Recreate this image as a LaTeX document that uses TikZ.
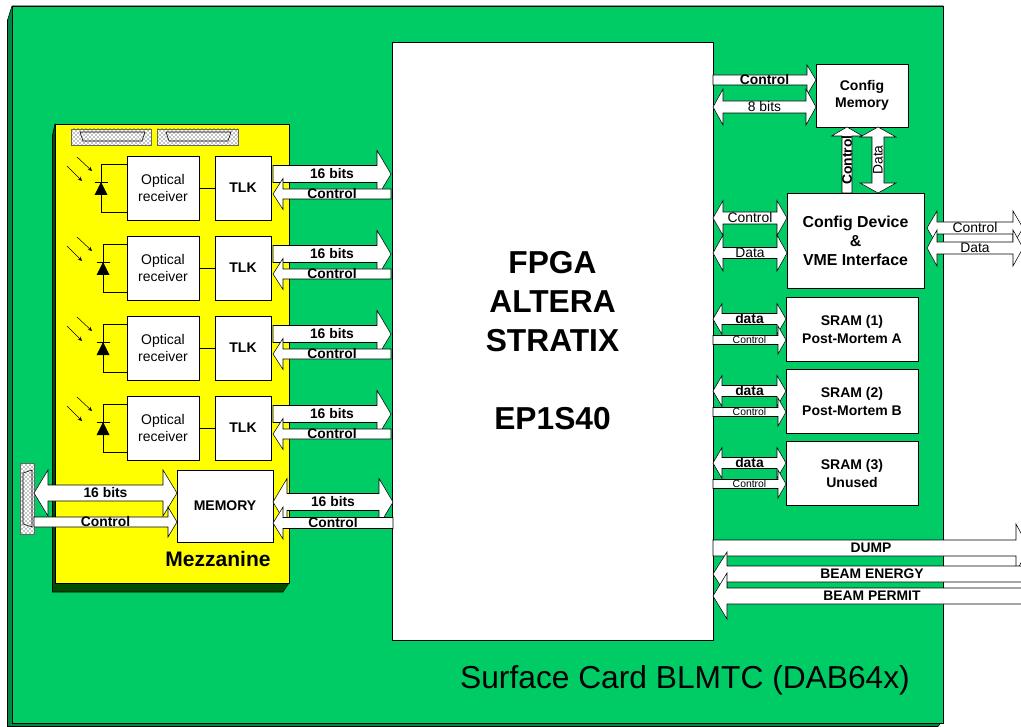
\documentclass[tikz,border=0pt]{standalone}
\usepackage{fontspec}
\setmainfont{Liberation Sans}
\usetikzlibrary{calc,positioning,patterns}
\definecolor{cardcolor}{RGB}{0, 204, 102}
\definecolor{cardsidecolor}{RGB}{0, 135, 65}
\definecolor{mezzcolor}{RGB}{255, 255, 0}
\definecolor{darkcolor}{RGB}{0, 76, 0}
\def\px{0.75pt}
\newcommand{\fsz}[2]{\fontsize{#1}{#2}\selectfont}
\tikzset{
    box/.style={draw, fill=white, align=center, inner sep=0pt, outer sep=0pt, font=\fsz{10.5}{12.75}},
    boldbox/.style={box, font=\fsz{10.5}{13.5}\bfseries},
    conn/.style={draw=black!60, preaction={fill=white}, pattern=crosshatch dots, inner sep=0pt, outer sep=0pt},
    buslabel/.style={inner sep=0pt, font=\fsz{10.4}{12}\bfseries},
    busplain/.style={inner sep=0pt, font=\fsz{10.4}{12}},
    bussmall/.style={inner sep=0pt, font=\fsz{7.8}{9}},
    busone/.style n args={3}{draw, fill=white, to path={
        ($(\tikztotarget)!#3*\px!(\tikztostart)$) coordinate (hb)
        ($(\tikztostart)!#1*\px!90:(\tikztotarget)$)
        -- ($(hb)!#1*\px!-90:(\tikztostart)$) -- ($(hb)!#2*\px!-90:(\tikztostart)$)
        -- (\tikztotarget)
        -- ($(hb)!#2*\px!90:(\tikztostart)$) -- ($(hb)!#1*\px!90:(\tikztostart)$)
        -- ($(\tikztostart)!#1*\px!-90:(\tikztotarget)$) -- cycle
        ($(\tikztostart)!.5!(\tikztotarget)$) coordinate (hm) -- (hm) \tikztonodes}},
    bustwo/.style n args={3}{draw, fill=white, to path={
        ($(\tikztotarget)!#3*\px!(\tikztostart)$) coordinate (hb)
        ($(\tikztostart)!#3*\px!(\tikztotarget)$) coordinate (ha)
        (\tikztostart)
        -- ($(ha)!#2*\px!90:(\tikztotarget)$) -- ($(ha)!#1*\px!90:(\tikztotarget)$)
        -- ($(hb)!#1*\px!-90:(\tikztostart)$) -- ($(hb)!#2*\px!-90:(\tikztostart)$)
        -- (\tikztotarget)
        -- ($(hb)!#2*\px!90:(\tikztostart)$) -- ($(hb)!#1*\px!90:(\tikztostart)$)
        -- ($(ha)!#1*\px!-90:(\tikztotarget)$) -- ($(ha)!#2*\px!-90:(\tikztotarget)$)
        -- cycle
        ($(\tikztostart)!.5!(\tikztotarget)$) coordinate (hm) -- (hm) \tikztonodes}},
}
\begin{document}
\begin{tikzpicture}[x=0.75pt, y=-0.75pt]
\clip (0,0) rectangle (1021,727);
\fill[white] (0,0) rectangle (1021,727);

% card
\draw[fill=cardsidecolor] (12,6) -- (7.5,20) -- (7.5,726.5) -- (938,726.5) -- (943,720) -- (943,6) -- cycle;
\draw[fill=cardcolor] (12,6) rectangle (943,723);
\node[font=\fsz{23.8}{28}] (cardtitle) at (685,680) {Surface Card BLMTC (DAB64x)};

% mezzanine
\draw[fill=darkcolor] (55,124) -- (52.5,135) -- (52.5,592) -- (283,592) -- (289,583) -- cycle;
\draw[fill=mezzcolor] (55,124) rectangle (289,583);
\node[font=\fsz{15.75}{18}\bfseries] (mezztitle) at (218,559) {Mezzanine};

% connectors
\node[conn, minimum width=80*\px, minimum height=16*\px] (conn1) at (111,137) {};
\node[conn, minimum width=81*\px, minimum height=16*\px] (conn2) at (197.5,137) {};
\node[conn, minimum width=14*\px, minimum height=71*\px] (conn3) at (27,498.5) {};
\draw (80,132) -- (145,132) -- (142,141) -- (83,141) -- cycle;
\draw (166,132) -- (231,132) -- (228,141) -- (169,141) -- cycle;
\draw (23,473) -- (32,470) -- (32,527) -- (23,524) -- cycle;

% main chip
\node[box, minimum width=321*\px, minimum height=598*\px,
      font=\fsz{23.8}{29.25}\bfseries] (fpga) at (552.5,341) {FPGA\\ALTERA\\STRATIX\\[29.25pt]EP1S40};

% optical channels
\foreach \i/\dx/\y in {1/101/188, 2/103/268, 3/103/348, 4/103/428} {
    \node[box, minimum width=72*\px, minimum height=64*\px] (rx\i) at (163,\y) {Optical\\receiver};
    \node[boldbox, minimum width=56*\px, minimum height=64*\px, right=16*\px of rx\i] (tlk\i) {TLK};
    \draw (rx\i) -- (tlk\i);
    \coordinate (dt\i) at (\dx,\y-6);
    \draw ([yshift=24*\px]rx\i.west) -| (dt\i);
    \draw ([yshift=-24*\px]rx\i.west) -| (dt\i);
    \fill (dt\i) -- ++(-6.5,13) -- ++(13,0) -- cycle;
    \draw ([xshift=-6.5*\px]dt\i) -- ([xshift=6.5*\px]dt\i);
    \draw[-stealth] (77,\y-31) -- (92,\y-17);
    \draw[-stealth] (67,\y-22) -- (82,\y-7);
    \draw[busone={8.5}{23.5}{14}] ([xshift=2*\px,yshift=14*\px]tlk\i.east) to node[buslabel] {16 bits} ([xshift=-1*\px,yshift=14*\px]tlk\i.east -| fpga.west);
    \draw[busone={5}{15.5}{10}] ([xshift=-1*\px,yshift=-6*\px]tlk\i.east -| fpga.west) to node[buslabel] {Control} ([xshift=2*\px,yshift=-6*\px]tlk\i.east);
}

% memory
\node[boldbox, minimum width=96*\px, minimum height=72*\px] (memory) at (225,506) {MEMORY};
\draw[bustwo={8}{23}{14}] ([yshift=13*\px]memory.west -| conn3.east) to node[buslabel] {16 bits} ([yshift=13*\px]memory.west);
\draw[busone={5}{15}{9}] ([yshift=-16*\px]memory.west -| conn3.east) to node[buslabel] {Control} ([yshift=-16*\px]memory.west);
\draw[bustwo={8.5}{23.5}{14}] ([yshift=4*\px]memory.east) to node[buslabel] {16 bits} ([xshift=1*\px,yshift=4*\px]memory.east -| fpga.west);
\draw[busone={5.5}{16}{10}] ([xshift=1*\px,yshift=-17*\px]memory.east -| fpga.west) to node[buslabel] {Control} ([yshift=-17*\px]memory.east);

% config blocks
\node[boldbox, minimum width=92*\px, minimum height=63*\px, font=\fsz{10.5}{12.75}\bfseries] (cfgmem) at (862,95.5) {Config\\Memory};
\node[boldbox, minimum width=137*\px, minimum height=95*\px, font=\fsz{11.9}{14.25}\bfseries] (cfgdev) at (855.5,240.5) {Config Device\\\&\\VME Interface};
\coordinate (vmeside) at (1023,228);
\draw[busone={5}{15}{9}] ([yshift=15.5*\px]cfgmem.west -| fpga.east) to node[buslabel] {Control} ([yshift=15.5*\px]cfgmem.west);
\draw[bustwo={6}{18}{10}] ([yshift=-11.5*\px]cfgmem.west -| fpga.east) to node[busplain] {8 bits} ([yshift=-11.5*\px]cfgmem.west);
\draw[busone={5}{15.5}{9}] (cfgdev.north -| 847,0) to node[buslabel, rotate=90] {Control} (cfgmem.south -| 847,0);
\draw[bustwo={6}{18}{10}] (cfgdev.north -| 878,0) to node[busplain, rotate=90] {Data} (cfgmem.south -| 878,0);
\draw[bustwo={6}{17.5}{10}] ([yshift=22.5*\px]cfgdev.west -| fpga.east) to node[busplain] {Control} ([yshift=22.5*\px]cfgdev.west);
\draw[bustwo={5.5}{18}{10}] ([yshift=-12.5*\px]cfgdev.west -| fpga.east) to node[busplain] {Data} ([yshift=-12.5*\px]cfgdev.west);
\draw[bustwo={6}{17}{10}] ([xshift=3*\px,yshift=12.5*\px]cfgdev.east) to node[busplain] {Control} (vmeside);
\draw[bustwo={6}{18}{10}] ([xshift=3*\px,yshift=-7.5*\px]cfgdev.east) to node[busplain] {Data} (vmeside |- {0,248});

% sram blocks
\foreach \i/\y/\txt in {1/329/Post-Mortem A, 2/401/Post-Mortem B, 3/473/Unused} {
    \node[boldbox, minimum width=132*\px, minimum height=64*\px] (sram\i) at (852,\y) {SRAM (\i)\\\txt};
    \draw[bustwo={5.5}{15.5}{9}] ([yshift=10*\px]sram\i.west -| fpga.east) to node[buslabel] {data} ([yshift=10*\px]sram\i.west);
    \draw[busone={4.5}{14}{8}] ([yshift=-11*\px]sram\i.west -| fpga.east) to node[bussmall] {Control} ([yshift=-11*\px]sram\i.west);
}

% beam lines
\coordinate (dumpend) at (1029,548);
\coordinate (energyend) at (1031,574);
\coordinate (permitend) at (1031,596);
\draw[busone={8}{24}{13}] (dumpend -| fpga.east) to node[buslabel] {DUMP} (dumpend);
\draw[busone={8}{22}{14}] (energyend) to node[buslabel] {BEAM ENERGY} (energyend -| fpga.east);
\draw[busone={8}{23}{14}] (permitend) to node[buslabel] {BEAM PERMIT} (permitend -| fpga.east);
\end{tikzpicture}
\end{document}
